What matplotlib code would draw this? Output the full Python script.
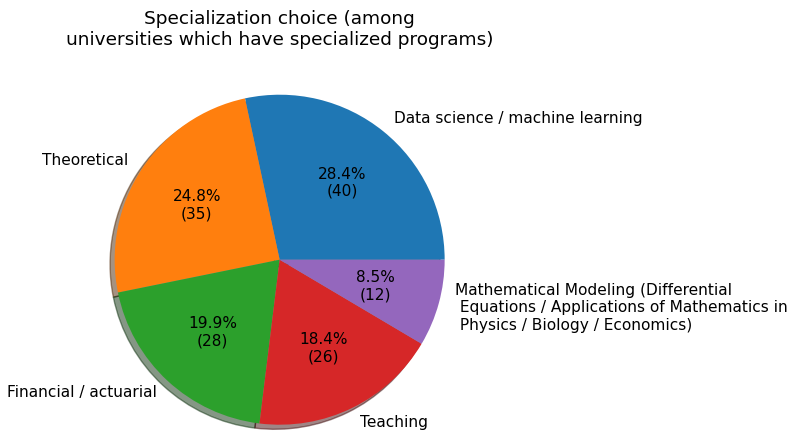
import matplotlib
matplotlib.use('Agg')
import matplotlib.pyplot as plt

labels = ['Data science / machine learning', 'Theoretical', 'Financial / actuarial', 'Teaching',
          'Mathematical Modeling (Differential\n Equations / Applications of Mathematics in\n Physics / Biology / Economics)']
counts = [40, 35, 28, 26, 12]
title = 'Specialization choice (among\nuniversities which have specialized programs)'


def fmt(pct):
    n = int(round(pct * sum(counts) / 100))
    return f'{pct:.1f}%\n({n})'


plt.rcParams['font.size'] = 11.1
fig = plt.figure(figsize=(7.99, 4.4), dpi=100)
ax = fig.add_axes([0.0, -0.059, 0.70, 0.9375])
ax.pie(counts, labels=labels, autopct=fmt, shadow=True, radius=1.0)
ax.set_title(title, fontsize=13.3)
fig.savefig('out.png', dpi=100)
